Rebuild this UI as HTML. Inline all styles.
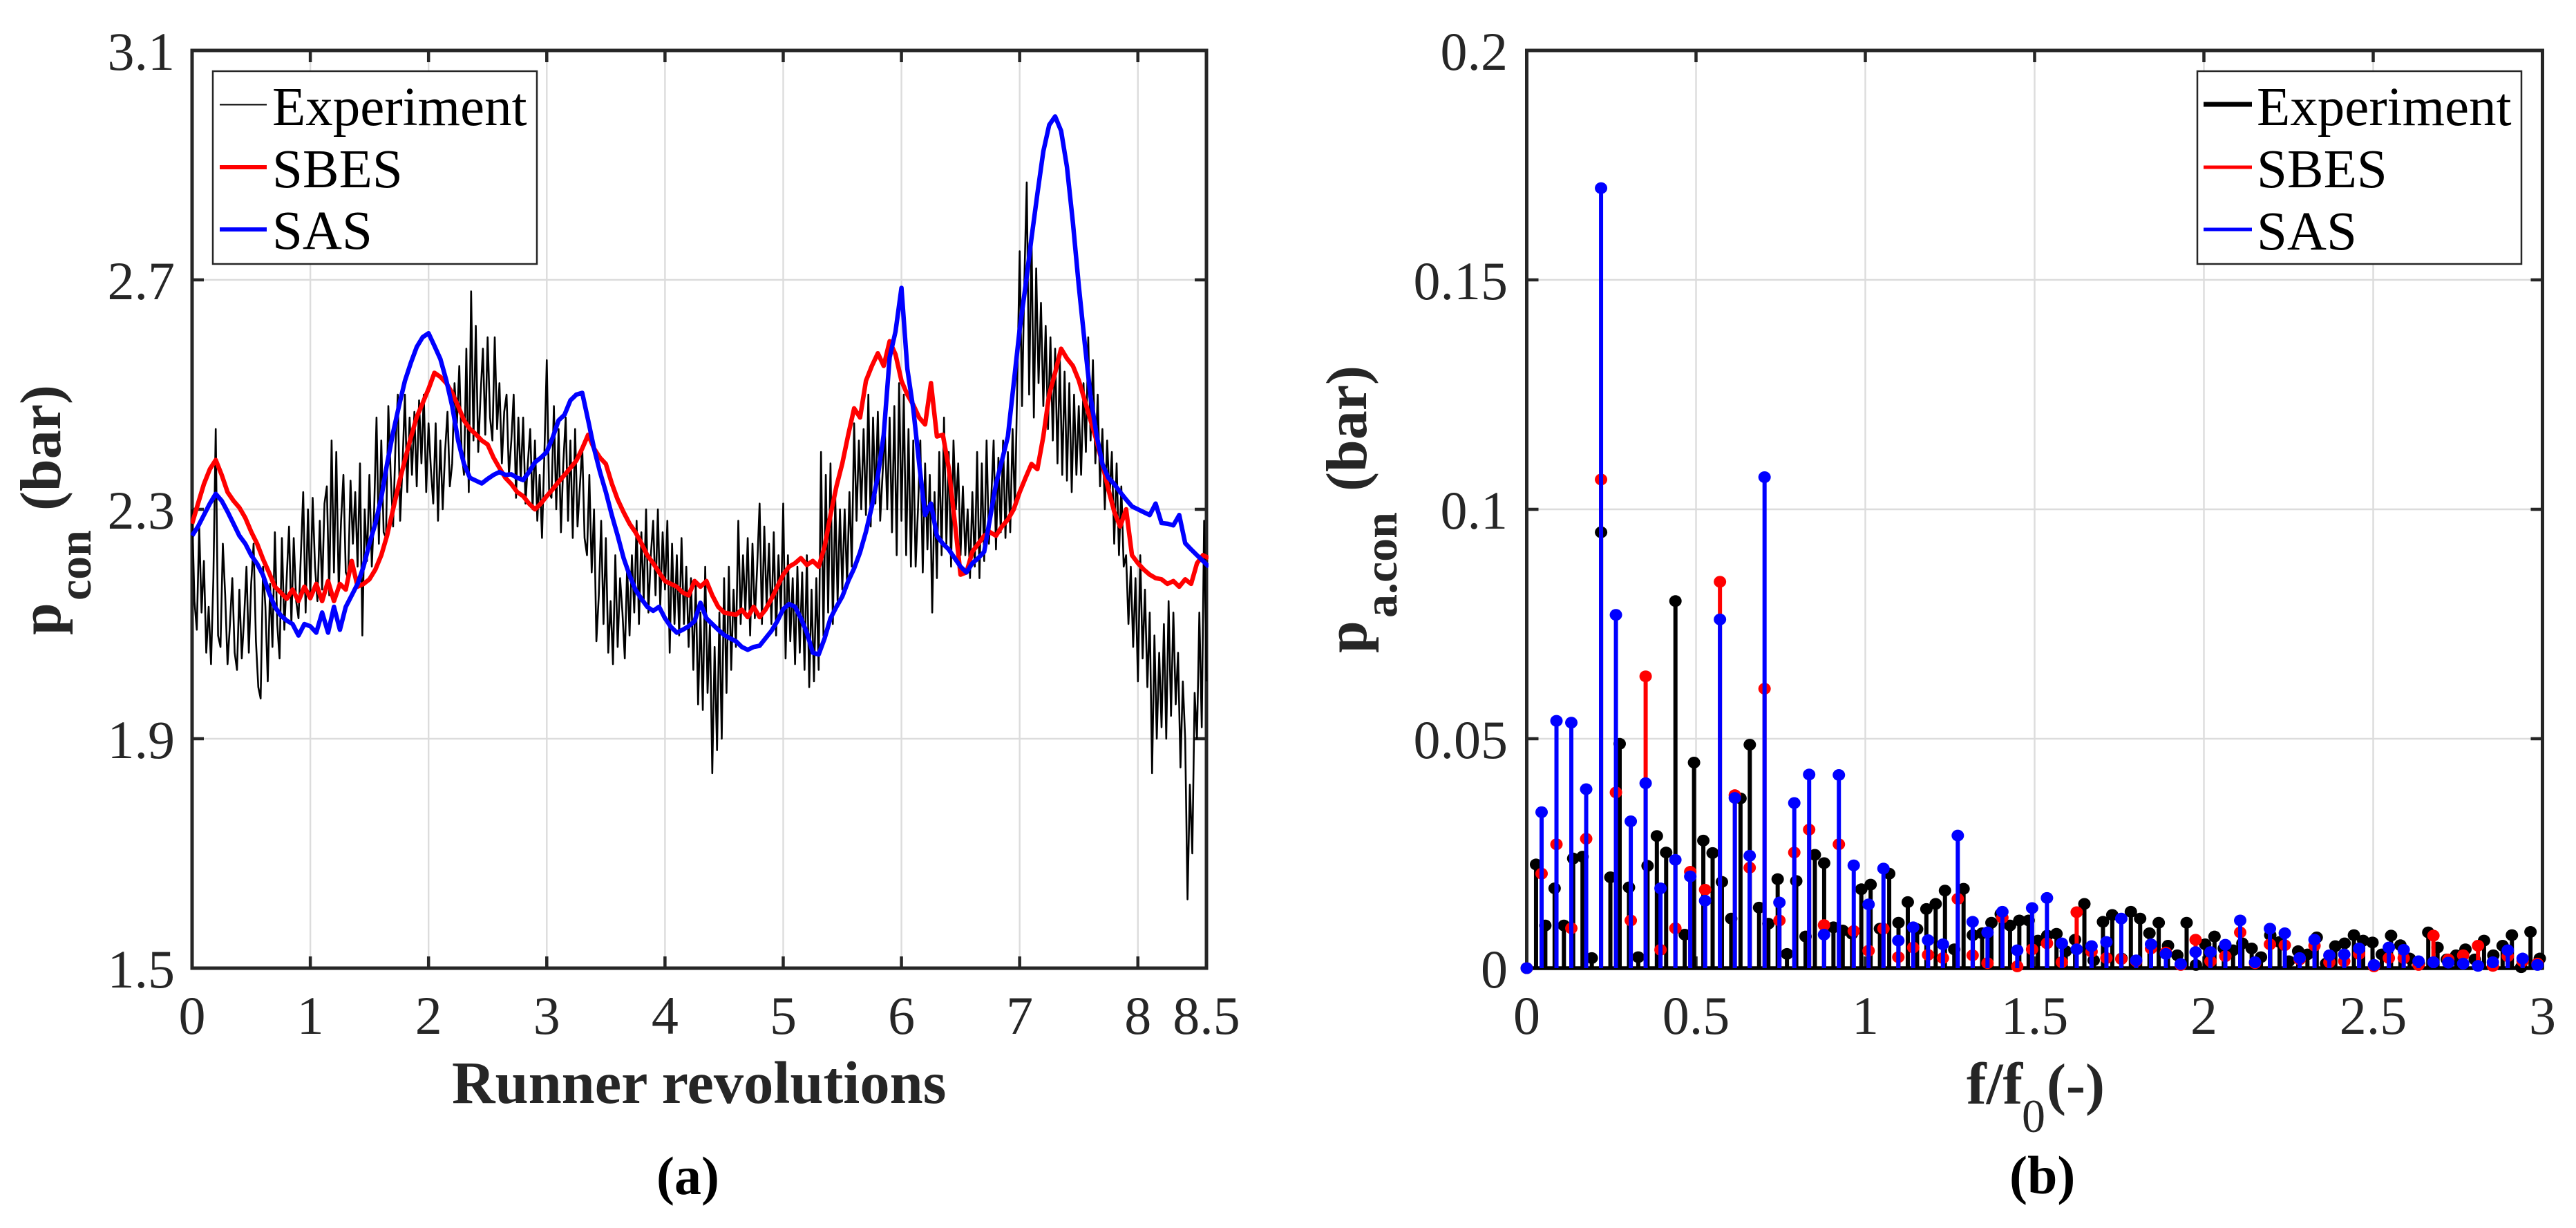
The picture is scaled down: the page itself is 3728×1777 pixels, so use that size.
<!DOCTYPE html>
<html>
<head>
<meta charset="utf-8">
<title>Pressure comparison charts</title>
<style>
html,body{margin:0;padding:0;background:#fff;}
svg{display:block;font-family:"Liberation Serif",serif;}
</style>
</head>
<body>
<svg id="fig" xmlns="http://www.w3.org/2000/svg" width="3728" height="1777" viewBox="0 0 3728 1777">
<defs><clipPath id="clipA"><rect x="276" y="71" width="1473" height="1333"/></clipPath></defs>
<rect x="0" y="0" width="3728" height="1777" fill="#fff"/>
<g id="panelA"></g>
<g id="panelB"></g>

<g fill="#262626" font-weight="bold">
<text x="654" y="1596" font-size="86.5">Runner revolutions</text>
<text transform="translate(87,919) rotate(-90)" font-size="84">p</text>
<text transform="translate(131,869) rotate(-90)" font-size="68">con</text>
<text transform="translate(87,739) rotate(-90)" font-size="84">(bar)</text>
<text x="950" y="1728" font-size="78" fill="#000">(a)</text>
</g>
<g fill="#262626" font-weight="bold">
<text font-size="86"><tspan x="2846" y="1597">f/f</tspan><tspan x="2926" y="1638" font-size="68" font-weight="normal">0</tspan><tspan x="2962" y="1597" font-size="84">(-)</tspan></text>
<text transform="translate(1977,945) rotate(-90)" font-size="84">p</text>
<text transform="translate(2021,894) rotate(-90)" font-size="68">a.con</text>
<text transform="translate(1977,711) rotate(-90)" font-size="84">(bar)</text>
<text x="2908" y="1727" font-size="78" fill="#000">(b)</text>
</g>

<g>
<rect x="308" y="103" width="469" height="279" fill="#fff" stroke="#262626" stroke-width="2.5"/>
<line x1="318" x2="386" y1="151.5" y2="151.5" stroke="#000" stroke-width="2"/>
<line x1="318" x2="386" y1="242" y2="242" stroke="#f00" stroke-width="6"/>
<line x1="318" x2="386" y1="332" y2="332" stroke="#00f" stroke-width="6"/>
<text x="394" y="181" font-size="79">Experiment</text>
<text x="394" y="271" font-size="79">SBES</text>
<text x="394" y="360" font-size="79">SAS</text>
</g>
<g>
<rect x="3180" y="103" width="469" height="279" fill="#fff" stroke="#262626" stroke-width="2.5"/>
<line x1="3189" x2="3259" y1="151" y2="151" stroke="#000" stroke-width="7"/>
<line x1="3189" x2="3259" y1="242" y2="242" stroke="#f00" stroke-width="5"/>
<line x1="3189" x2="3259" y1="332" y2="332" stroke="#00f" stroke-width="5"/>
<text x="3266" y="181" font-size="79">Experiment</text>
<text x="3266" y="271" font-size="79">SBES</text>
<text x="3266" y="361" font-size="79">SAS</text>
</g>
</svg>

<script>
// ---- Panel (a) data ----
const aXTicks = [0,1,2,3,4,5,6,7,8,8.58];
const aXTickLabels = ["0","1","2","3","4","5","6","7","8","8.5"];
const aYTicks = [3.1,2.7,2.3,1.9,1.5];
const aYTickLabels = ["3.1","2.7","2.3","1.9","1.5"];
const expStep = 0.02;
const expValues = [
2.30,2.14,2.09,2.27,2.12, 2.21,2.05,2.13,2.03,2.18, 2.44,2.08,2.06,2.24,2.15, 2.03,2.10,2.18,2.05,2.02, 2.16,2.04,2.11,2.20,2.05,
2.17,2.24,2.07,1.99,1.97, 2.20,2.13,2.00,2.17,2.06, 2.26,2.10,2.04,2.25,2.09, 2.18,2.27,2.10,2.25,2.14, 2.11,2.22,2.33,2.12,2.30,
2.15,2.32,2.20,2.14,2.28, 2.16,2.31,2.34,2.15,2.42, 2.19,2.40,2.16,2.28,2.36, 2.19,2.18,2.35,2.24,2.33, 2.20,2.38,2.08,2.30,2.21,
2.36,2.20,2.30,2.46,2.24, 2.42,2.26,2.25,2.48,2.36, 2.27,2.41,2.50,2.28,2.38, 2.50,2.33,2.46,2.36,2.47, 2.34,2.49,2.38,2.50,2.33,
2.45,2.37,2.31,2.45,2.28, 2.42,2.30,2.40,2.47,2.34, 2.38,2.52,2.45,2.55,2.40, 2.36,2.58,2.33,2.68,2.42, 2.62,2.40,2.50,2.58,2.43,
2.60,2.46,2.42,2.60,2.44, 2.52,2.38,2.47,2.50,2.36, 2.42,2.50,2.32,2.46,2.35, 2.46,2.31,2.38,2.44,2.30, 2.42,2.28,2.36,2.25,2.40,
2.56,2.33,2.32,2.48,2.30, 2.44,2.26,2.38,2.46,2.28, 2.42,2.25,2.44,2.27,2.34, 2.41,2.25,2.22,2.36,2.19, 2.30,2.07,2.15,2.28,2.10,
2.25,2.05,2.14,2.03,2.22, 2.06,2.18,2.12,2.04,2.20, 2.08,2.22,2.12,2.28,2.10, 2.26,2.14,2.30,2.12,2.22, 2.28,2.15,2.30,2.13,2.26,
2.16,2.28,2.05,2.24,2.10, 2.22,2.08,2.25,2.10,2.20, 2.06,2.18,2.02,2.17,1.96, 2.12,1.95,2.20,1.98,2.10, 1.84,2.06,1.88,2.12,1.90,
2.18,1.98,2.20,2.02,2.16, 2.06,2.28,2.10,2.22,2.12, 2.25,2.08,2.24,2.11,2.20, 2.31,2.10,2.27,2.13,2.24, 2.10,2.26,2.08,2.22,2.12,
2.31,2.04,2.22,2.07,2.18, 2.03,2.20,2.05,2.19,2.02, 2.22,1.99,2.16,2.00,2.18, 2.02,2.40,2.08,2.36,2.12, 2.38,2.10,2.32,2.14,2.30,
2.16,2.30,2.17,2.33,2.20, 2.45,2.28,2.42,2.30,2.44, 2.29,2.50,2.27,2.46,2.31, 2.47,2.28,2.36,2.44,2.30, 2.46,2.26,2.48,2.22,2.52,
2.28,2.50,2.22,2.44,2.20, 2.42,2.20,2.30,2.42,2.19, 2.38,2.23,2.36,2.12,2.33, 2.18,2.40,2.22,2.46,2.24, 2.40,2.20,2.42,2.30,2.38,
2.22,2.34,2.22,2.30,2.18, 2.33,2.20,2.40,2.18,2.38, 2.21,2.42,2.24,2.32,2.42, 2.23,2.39,2.26,2.42,2.25, 2.40,2.26,2.44,2.30,2.52,
2.75,2.48,2.70,2.87,2.50, 2.78,2.46,2.72,2.52,2.66, 2.48,2.62,2.44,2.60,2.42, 2.58,2.38,2.56,2.36,2.54, 2.35,2.52,2.33,2.50,2.36,
2.48,2.36,2.52,2.40,2.60, 2.42,2.56,2.38,2.50,2.34, 2.44,2.30,2.42,2.32,2.40, 2.24,2.38,2.22,2.34,2.20, 2.22,2.10,2.20,2.06,2.18,
2.00,2.22,2.04,2.16,1.99, 2.12,1.84,2.08,1.90,2.05, 1.92,2.10,1.90,2.14,1.94, 2.12,1.96,2.05,1.85,2.00, 1.90,1.62,1.82,1.70,1.98,
1.90,2.12,1.92,2.28,2.00
];
const simStep = 0.05;
const sbesValues = [
2.275,2.31,2.344,2.37,2.386,2.36,2.33,2.315,2.303,2.285,2.261,2.24,2.213,2.19,2.165,2.155,2.144,2.16,2.14,2.165,
2.145,2.17,2.14,2.175,2.14,2.17,2.16,2.21,2.165,2.17,2.178,2.195,2.22,2.255,2.30,2.345,2.386,2.425,2.461,2.485,
2.51,2.538,2.531,2.52,2.503,2.48,2.455,2.44,2.431,2.42,2.413,2.39,2.372,2.355,2.344,2.33,2.323,2.31,2.30,2.31,
2.323,2.335,2.348,2.36,2.372,2.385,2.406,2.43,2.406,2.39,2.379,2.345,2.317,2.295,2.275,2.26,2.241,2.22,2.206,2.19,
2.175,2.17,2.165,2.155,2.15,2.175,2.165,2.175,2.15,2.13,2.12,2.118,2.116,2.125,2.112,2.13,2.112,2.125,2.144,2.165,
2.186,2.20,2.206,2.215,2.203,2.21,2.20,2.235,2.29,2.34,2.38,2.43,2.476,2.46,2.524,2.55,2.572,2.55,2.593,2.57,
2.524,2.50,2.482,2.46,2.448,2.52,2.427,2.43,2.372,2.28,2.186,2.19,2.226,2.24,2.254,2.26,2.254,2.27,2.282,2.30,
2.33,2.355,2.379,2.37,2.427,2.50,2.538,2.58,2.563,2.55,2.525,2.49,2.455,2.42,2.379,2.335,2.296,2.27,2.30,2.22,
2.206,2.195,2.186,2.18,2.178,2.17,2.175,2.165,2.178,2.17,2.206,2.22,2.215
];
const sasValues = [
2.254,2.27,2.29,2.31,2.327,2.315,2.296,2.275,2.254,2.24,2.22,2.205,2.185,2.155,2.13,2.115,2.106,2.10,2.08,2.10,
2.096,2.085,2.12,2.085,2.13,2.09,2.13,2.15,2.17,2.20,2.24,2.275,2.32,2.38,2.434,2.48,2.524,2.555,2.583,2.60,
2.607,2.585,2.562,2.525,2.48,2.42,2.379,2.355,2.35,2.345,2.353,2.36,2.365,2.36,2.361,2.355,2.351,2.365,2.382,2.39,
2.40,2.425,2.455,2.465,2.49,2.50,2.503,2.455,2.406,2.365,2.33,2.29,2.254,2.215,2.185,2.16,2.144,2.13,2.123,2.13,
2.11,2.095,2.085,2.09,2.096,2.105,2.137,2.11,2.10,2.09,2.081,2.075,2.07,2.06,2.055,2.06,2.062,2.075,2.088,2.105,
2.126,2.135,2.13,2.11,2.085,2.05,2.047,2.075,2.11,2.13,2.148,2.175,2.197,2.225,2.261,2.305,2.358,2.43,2.565,2.61,
2.686,2.545,2.475,2.38,2.29,2.31,2.254,2.24,2.23,2.215,2.20,2.19,2.206,2.215,2.226,2.285,2.344,2.385,2.427,2.52,
2.614,2.69,2.773,2.85,2.924,2.97,2.985,2.96,2.897,2.80,2.69,2.59,2.496,2.43,2.379,2.355,2.344,2.33,2.317,2.305,
2.30,2.295,2.29,2.31,2.276,2.275,2.272,2.29,2.241,2.23,2.22,2.21,2.20
];

// ---- Panel (b) data ----
const bXTicks = [0,0.5,1,1.5,2,2.5,3];
const bXTickLabels = ["0","0.5","1","1.5","2","2.5","3"];
const bYTicks = [0.2,0.15,0.1,0.05,0];
const bYTickLabels = ["0.2","0.15","0.1","0.05","0"];
const expFreqStep = 0.02745;
const simFreqStep = 0.0439;
const expAmp = [
0,.0226,.0093,.0174,.0093,.0239,.0243,.0022,.095,.0198,.0489,.0176,.0024,.0223,.0288,.0252,.08,.0073,.0448,.0278,
.0251,.0188,.0108,.037,.0487,.0132,.0097,.0194,.0031,.019,.0069,.0247,.0229,.0089,.0082,.0075,.0172,.0182,.0086,.0206,
.0099,.0144,.0085,.0129,.014,.0169,.0041,.0173,.0072,.0076,.0099,.0118,.0093,.0104,.0104,.006,.0071,.0075,.0037,.0062,
.014,.0017,.0101,.0116,.0021,.0123,.0108,.0076,.0099,.0049,.0028,.0099,.0007,.0052,.0069,.0043,.0039,.0054,.0043,.0024,
.0072,.0057,.0015,.0037,.003,.0067,.001,.0048,.0054,.0072,.006,.0056,.003,.0071,.005,.0021,.001,.0078,.0045,.0019,
.0028,.0041,.0019,.006,.0028,.0049,.0072,.0002,.0079,.0021
];
const sbesAmp = [
0,.0206,.027,.0087,.0282,.1065,.0383,.0104,.0636,.004,.0087,.021,.0171,.0842,.0377,.0219,.0609,.0104,.0252,.0302,
.0094,.027,.0081,.0038,.0086,.0024,.0045,.0029,.0022,.0151,.0028,.0011,.011,.0004,.0041,.0054,.0013,.0122,.0036,.0022,
.002,.0015,.0043,.0034,.0007,.0062,.0015,.0026,.0078,.0011,.0052,.005,.0019,.0049,.0013,.0015,.0031,.0004,.0022,.0022,
.0007,.0071,.0019,.0028,.0049,.0005,.0026,.0015,.001
];
const sasAmp = [
0,.034,.0539,.0535,.039,.17,.077,.032,.0403,.0174,.0236,.02,.0147,.076,.0371,.0245,.107,.0143,.036,.0422,
.0073,.0421,.0224,.0139,.0217,.006,.0089,.0061,.0052,.0289,.0101,.0078,.0123,.0039,.0131,.0153,.0054,.0041,.0048,.0057,
.0108,.0017,.0052,.0031,.0009,.0035,.0035,.0051,.0104,.0013,.0086,.0076,.0022,.0062,.0028,.003,.0043,.0007,.0045,.004,
.0015,.0013,.0012,.001,.0005,.0013,.0039,.0021,.0007
];

const NS = "http://www.w3.org/2000/svg";
const panelA = document.getElementById("panelA");
const panelB = document.getElementById("panelB");

// axis functions
function ax(v){ return 278 + (v/8.58)*(1746-278); }
function ay(v){ return 1401 - ((v-1.5)/1.6)*1328; }
function bx(v){ return 2209.5 + (v/3)*1470; }
function by(v){ return 1401 - (v/0.2)*1328; }

function line(parent,x1,y1,x2,y2,stroke,w){
  const el = document.createElementNS(NS,"line");
  el.setAttribute("x1",x1); el.setAttribute("y1",y1);
  el.setAttribute("x2",x2); el.setAttribute("y2",y2);
  el.setAttribute("stroke",stroke); el.setAttribute("stroke-width",w);
  parent.appendChild(el);
  return el;
}
function label(parent,x,y,str,anchor){
  const el = document.createElementNS(NS,"text");
  el.setAttribute("x",x); el.setAttribute("y",y);
  el.setAttribute("font-size","78");
  el.setAttribute("fill","#262626");
  el.setAttribute("text-anchor",anchor);
  el.textContent = str;
  parent.appendChild(el);
  return el;
}
function drawAxes(parent,x0,x1,y0,y1,xT,xL,yT,yL,fx,fy,yAnchorX,prefix){
  xT.forEach(function(v,i){
    const p = fx(v);
    if(p>x0+1 && p<x1-1){
      const g = line(parent,p,y0,p,y1,"#dcdcdc",2.4);
      
      
    }
  });
  yT.forEach(function(v,i){
    const p = fy(v);
    if(p>y0+1 && p<y1-1){
      const g = line(parent,x0,p,x1,p,"#dcdcdc",2.4);
      
      
    }
  });
  const frame = document.createElementNS(NS,"rect");
  frame.setAttribute("x",x0); frame.setAttribute("y",y0);
  frame.setAttribute("width",x1-x0); frame.setAttribute("height",y1-y0);
  frame.setAttribute("fill","none"); frame.setAttribute("stroke","#262626"); frame.setAttribute("stroke-width","5");
  
  
  parent.appendChild(frame);
  xT.forEach(function(v,i){
    const p = fx(v);
    const t1 = line(parent,p,y1,p,y1-17,"#262626",4.5);
    
    
    const t2 = line(parent,p,y0,p,y0+17,"#262626",4.5);
    
    
    const l = label(parent,p,1496,xL[i],"middle");
    
    
  });
  yT.forEach(function(v,i){
    const p = fy(v);
    const t1 = line(parent,x0,p,x0+17,p,"#262626",4.5);
    
    
    const t2 = line(parent,x1,p,x1-17,p,"#262626",4.5);
    
    
    const l = label(parent,yAnchorX,p+28,yL[i],"end");
    
    
  });
}

drawAxes(panelA,278,1746,73,1401,aXTicks,aXTickLabels,aYTicks,aYTickLabels,ax,ay,253,"a");
drawAxes(panelB,2209.5,3679.5,73,1401,bXTicks,bXTickLabels,bYTicks,bYTickLabels,bx,by,2182,"b");

// Panel (a) lines
function pathFrom(values,step){
  return values.map(function(v,i){
    return (i?"L":"M")+ax(i*step).toFixed(1)+" "+ay(v).toFixed(1);
  }).join("");
}
const clipGroup = document.createElementNS(NS,"g");
clipGroup.setAttribute("clip-path","url(#clipA)");


panelA.appendChild(clipGroup);

const expPath = document.createElementNS(NS,"path");
expPath.setAttribute("d",pathFrom(expValues,expStep));
expPath.setAttribute("fill","none");
expPath.setAttribute("stroke","#000");
expPath.setAttribute("stroke-width","2.6");
expPath.setAttribute("stroke-linejoin","round");


clipGroup.appendChild(expPath);

const sbesPath = document.createElementNS(NS,"path");
sbesPath.setAttribute("d",pathFrom(sbesValues,simStep));
sbesPath.setAttribute("fill","none");
sbesPath.setAttribute("stroke","#f00");
sbesPath.setAttribute("stroke-width","6.5");
sbesPath.setAttribute("stroke-linejoin","round");


clipGroup.appendChild(sbesPath);

const sasPath = document.createElementNS(NS,"path");
sasPath.setAttribute("d",pathFrom(sasValues,simStep));
sasPath.setAttribute("fill","none");
sasPath.setAttribute("stroke","#00f");
sasPath.setAttribute("stroke-width","6.5");
sasPath.setAttribute("stroke-linejoin","round");


clipGroup.appendChild(sasPath);

// Panel (b) stems
const baseLine = line(panelB,2209.5,by(0),3679.5,by(0),"#000",5.5);



function drawStems(values,step,color,seriesName){
  values.forEach(function(v,i){
    const px = bx(i*step);
    const py = by(v);
    const s = line(panelB,px,by(0),px,py,color,6);
    
    
    const m = document.createElementNS(NS,"ellipse");
    m.setAttribute("cx",px); m.setAttribute("cy",py);
    m.setAttribute("rx","9"); m.setAttribute("ry","8.5");
    m.setAttribute("fill",color);
    
    
    panelB.appendChild(m);
  });
}
drawStems(expAmp,expFreqStep,"#000","experiment");
drawStems(sbesAmp,simFreqStep,"#f00","sbes");
drawStems(sasAmp,simFreqStep,"#00f","sas");
</script>
</body>
</html>
